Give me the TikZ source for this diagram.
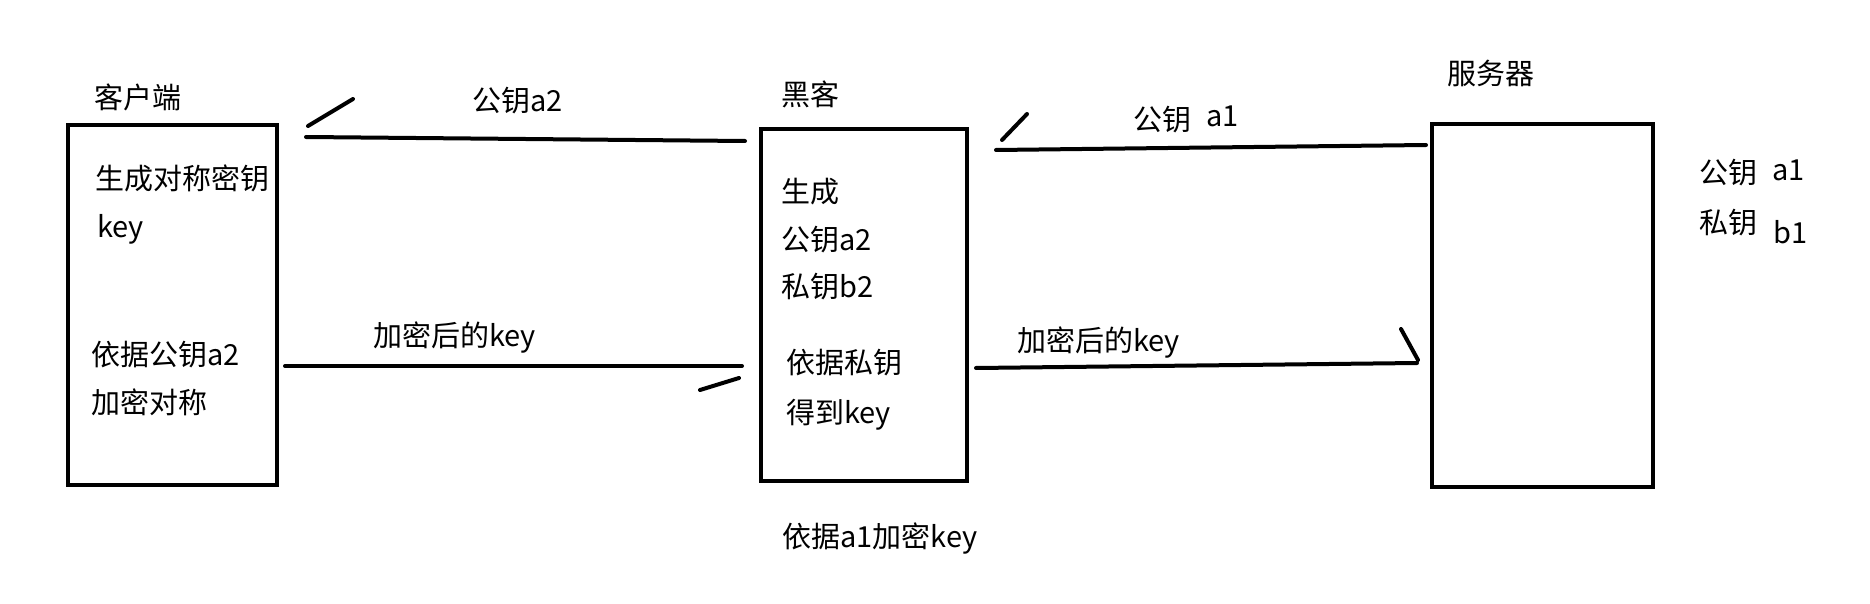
\documentclass[tikz,border=0pt]{standalone}
\usepackage{fontspec}
\setmainfont{Noto Sans CJK SC}
\begin{document}
\begin{tikzpicture}[x=1pt,y=-1pt,
  box/.style={draw,line width=4pt,inner sep=0pt},
  txt/.style={anchor=west,inner sep=0pt,yshift=-7pt,text height=0.88em,text depth=0.12em,font=\fontsize{29}{35}\selectfont},
  conn/.style={line width=4pt,line cap=round},
  headstroke/.style={line width=4pt,line cap=round}]
\useasboundingbox[fill=white] (0,0) rectangle (1870,604);

% boxes
\node[box,minimum width=209pt,minimum height=360pt] (client) at (172.5,305) {};
\node[box,minimum width=206pt,minimum height=352pt] (hacker) at (864,305) {};
\node[box,minimum width=221pt,minimum height=363pt] (server) at (1542.5,305.5) {};

% titles
\node[txt] (clientlabel) at (94,98) {客户端};
\node[txt] (hackerlabel) at (781,95) {黑客};
\node[txt] (serverlabel) at (1447,74) {服务器};

% client text
\node[txt] (c1) at (95,179) {生成对称密钥};
\node[txt] (c2) at (97,227) {key};
\node[txt] (c3) at (91,355) {依据公钥a2};
\node[txt] (c4) at (91,403) {加密对称};

% hacker text
\node[txt] (h1) at (781,192) {生成};
\node[txt] (h2) at (781,240) {公钥a2};
\node[txt] (h3) at (781,287) {私钥b2};
\node[txt] (h4) at (786,363) {依据私钥};
\node[txt] (h5) at (786,413) {得到key};
\node[txt] (h6) at (782,537) {依据a1加密key};

% server side text
\node[txt] (s1) at (1699,173) {公钥\hspace{15pt}\raisebox{3pt}{a1}};
\node[txt] (s2) at (1699,223) {私钥\hspace{16pt}\raisebox{-10pt}{b1}};

% connector end points
\coordinate (e1a) at (306,137);
\coordinate (e1b) at (745,141);
\coordinate (e2a) at (285,366);
\coordinate (e2b) at (742,366);
\coordinate (e3a) at (996,150);
\coordinate (e3b) at (1426,145);
\coordinate (e4a) at (976,368);
\coordinate (e4b) at (1417,363);

% connectors
\draw[conn] (e1b) -- (e1a);
\draw[headstroke] ([shift={(2,-11)}]e1a) -- ([shift={(47,-38)}]e1a);
\draw[conn] (e2a) -- (e2b);
\draw[headstroke] ([shift={(-42,24)}]e2b) -- ([shift={(-3,12)}]e2b);
\draw[conn] (e3b) -- (e3a);
\draw[headstroke] ([shift={(6,-10)}]e3a) -- ([shift={(31,-36)}]e3a);
\draw[conn] (e4a) -- (e4b);
\draw[headstroke] ([shift={(1,-3)}]e4b) -- ([shift={(-16,-34)}]e4b);

% connector labels
\node[txt] (l1) at (472,101) {公钥a2};
\node[txt] (l2) at (373,336) {加密后的key};
\node[txt] (l3) at (1133,120) {公钥\hspace{15pt}\raisebox{4pt}{a1}};
\node[txt] (l4) at (1017,341) {加密后的key};
\end{tikzpicture}
\end{document}
